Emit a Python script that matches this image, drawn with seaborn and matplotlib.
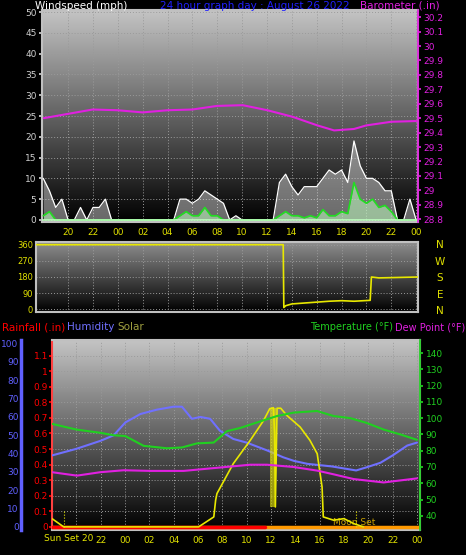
import numpy as np
import pandas as pd
import matplotlib
matplotlib.use("Agg")
import matplotlib.pyplot as plt
from matplotlib.colors import LinearSegmentedColormap
import seaborn as sns

sns.set_theme(style="dark")
plt.rcParams['font.family'] = ['DejaVu Sans']

# ---------- data ----------
tick_labels = ["20", "22", "00", "02", "04", "06", "08", "10", "12", "14", "16", "18", "20", "22", "00"]

wind_hours = [h / 2 for h in range(-4, 57)]
wind_gust = [10, 7, 3, 5, 0, 0, 3, 0, 3, 3, 5, 0, 0, 0, 0, 0, 0, 0, 0, 0, 0, 0, 5, 5, 4, 5, 7, 6, 5, 4, 0, 1, 0,
             0, 0, 0, 0, 0, 9, 11, 8, 6, 8, 8, 8, 10, 12, 11, 12, 9, 19, 13, 10, 10, 9, 7, 7, 0, 0, 5, 0]
wind_avg = [1, 2, 0, 0, 0, 0, 0, 0, 0, 0, 0, 0, 0, 0, 0, 0, 0, 0, 0, 0, 0, 0, 1, 2, 1, 1, 3, 1, 1, 0, 0, 0, 0,
            0, 0, 0, 0, 0, 1, 2, 1, 1, 0.5, 1, 0.5, 2.5, 1, 1, 2, 1.5, 9, 5, 4, 5, 3, 3.5, 2, 0, 0, 0, 0]

baro_hours = [-1.96, 0, 1.98, 3.97, 6.0, 8.02, 10.0, 11.98, 14.05, 16.03, 18.04, 20.05, 21.4, 23.0, 24.0, 26.0, 28.0]
baro_vals = [29.50, 29.53, 29.56, 29.555, 29.54, 29.555, 29.56, 29.585, 29.59, 29.555, 29.51, 29.45, 29.415,
             29.425, 29.45, 29.475, 29.48]

dir_hours = [-2.6, 17.3, 17.35, 17.5, 18, 19, 20, 21, 22, 23, 24.3, 24.4, 25, 28.2]
dir_vals = [360, 360, 10, 20, 30, 35, 40, 45, 48, 45, 50, 180, 175, 180]

hum_hours = [-2, 0, 2, 3.07, 4.03, 5.26, 6.63, 8, 8.68, 9.5, 10.2, 11, 11.8, 12.9, 14, 15.7, 17, 17.9, 19, 21,
             23, 23.9, 25, 26, 27.2, 28]
hum_vals = [39, 42.6, 47, 50, 57, 61.6, 64, 65.6, 65.6, 59, 60, 59, 52.5, 48, 46, 41.7, 38, 36, 34.4, 33, 30.8,
            32.6, 35, 39, 44.4, 46]

temp_hours = [-2, 0, 1.97, 3.07, 4.03, 5.53, 7.45, 8.68, 9.92, 11.29, 12.38, 13.48, 15.12, 16.49, 17.86, 19.78,
              21.15, 22.52, 23.89, 25.26, 26.63, 28]
temp_vals = [96.5, 93, 91, 89.5, 89, 83, 81.5, 82, 84.5, 85, 92, 94, 98, 101.3, 103.4, 104.4, 101.3, 100, 97, 93,
             90, 86.7]

dew_hours = [-2, 0.05, 1.97, 3.89, 6.08, 8.82, 11.56, 14.3, 15.67, 17.86, 19.78, 21.15, 22.79, 25.26, 28]
dew_vals = [66.8, 64.7, 66.8, 68, 67.6, 67.6, 69.5, 71.4, 71.4, 70, 67.8, 65.5, 62.6, 60.5, 63]

solar_hours = [-2, -1.04, 10.05, 11.3, 11.45, 11.56, 12.9, 14.3, 15.4, 15.9, 16.2, 16.3, 16.36, 16.5, 16.8, 17.3,
               18.4, 19.2, 19.8, 20.2, 20.3, 21.15, 22, 22.8, 23.6]
solar_vals = [53, 0, 0, 64, 171, 214, 406, 556, 684, 759, 765, 600, 128, 762, 762, 716, 641, 556, 470, 256, 64, 43,
              53, 21, 0]

# ---------- figure ----------
W, H = 466, 555
fig = plt.figure(figsize=(W / 100, H / 100), dpi=100, facecolor="black")


def px(l, t, r, b):
    return [l / W, 1 - b / H, (r - l) / W, (b - t) / H]


def gradient(ax, top="#c4c4c4", bottom="#000000"):
    cmap = LinearSegmentedColormap.from_list("g", [bottom, top])
    ax.imshow(np.linspace(0, 1, 256).reshape(-1, 1), cmap=cmap, origin="lower", extent=[0, 1, 0, 1],
              transform=ax.transAxes, aspect="auto", zorder=0)


def style(ax, spine="#c0c0c0"):
    ax.set_facecolor("black")
    for s in ax.spines.values():
        s.set_color(spine)
        s.set_linewidth(1.5)
    ax.grid(True, color="#9a9a9a", linestyle=(0, (1, 2)), linewidth=0.7, zorder=1)
    ax.set_xlabel("")
    ax.set_ylabel("")


fs = 6.5
# Panel 1: wind / barometer
ax1 = fig.add_axes(px(42, 10, 418, 222))
gradient(ax1)
style(ax1)
ax1.set_xlim(-2.1, 28.15)
ax1.set_ylim(-0.5, 50.5)
df_w = pd.DataFrame({"h": wind_hours, "gust": wind_gust, "avg": wind_avg})
ax1.fill_between(df_w.h, 0, df_w.gust, color="#e8e8e8", alpha=0.45, lw=0, zorder=2)
sns.lineplot(data=df_w, x="h", y="gust", ax=ax1, color="white", lw=0.9, zorder=3)
ax1.fill_between(df_w.h, 0, df_w.avg, color="#b8f0b8", alpha=0.6, lw=0, zorder=3)
sns.lineplot(data=df_w, x="h", y="avg", ax=ax1, color="#22dd22", lw=1.2, zorder=4)
ax1.axhline(0, color="#c0ffc0", lw=1.2, zorder=4)
ax1.set_xticks(range(0, 29, 2))
ax1.set_xticklabels(tick_labels)
ax1.set_yticks(range(0, 51, 5))
ax1.tick_params(axis="x", colors="#e0e000", labelsize=fs, length=2, pad=2)
ax1.tick_params(axis="y", colors="#d0d0d0", labelsize=fs, length=2, pad=2)
ax1.set_xlabel("")
ax1.set_ylabel("")
ax1b = ax1.twinx()
ax1b.set_ylim(28.78, 30.25)
sns.lineplot(x=baro_hours, y=baro_vals, ax=ax1b, color="#e020e0", lw=1.5)
ax1b.set_yticks(np.round(np.arange(28.8, 30.21, 0.1), 1))
ax1b.set_yticklabels([f"{v:g}" for v in np.round(np.arange(28.8, 30.21, 0.1), 1)])
ax1b.tick_params(axis="y", colors="#e020e0", labelsize=fs, length=2, pad=2)
ax1b.spines["right"].set_color("#e020e0")
for k in ["left", "top", "bottom"]:
    ax1b.spines[k].set_visible(False)
ax1b.grid(False)

fig.text(35 / W, 1 - 6 / H, "Windspeed (mph)", color="white", fontsize=7.5, va="center")
fig.text(255 / W, 1 - 6 / H, "24 hour graph day : August 26 2022", color="#2020ff", fontsize=7.5, va="center",
         ha="center")
fig.text(440 / W, 1 - 6 / H, "Barometer (.in)", color="#e020e0", fontsize=7.5, va="center", ha="right")

# Panel 2: wind direction
ax2 = fig.add_axes(px(36, 242, 418, 312))
gradient(ax2, top="#909090", bottom="#000000")
style(ax2)
ax2.set_xlim(-2.6, 28.15)
ax2.set_ylim(-15, 375)
sns.lineplot(x=dir_hours, y=dir_vals, ax=ax2, color="#e8e800", lw=1.2, zorder=3)
ax2.set_yticks([0, 90, 180, 270, 360])
ax2.set_xticks(range(0, 29, 2))
ax2.set_xticklabels([])
ax2.tick_params(axis="x", length=0)
ax2.tick_params(axis="y", colors="#e0e000", labelsize=fs - 0.5, length=0, pad=2)
for i, c in enumerate("NWSEN"):
    fig.text(440 / W, 1 - (245 + i * 16.5) / H, c, color="#e0e000", fontsize=7.5, ha="center", va="center")

# Panel 3: rain / humidity / solar / temperature
ax3 = fig.add_axes(px(52, 340, 420, 530))
gradient(ax3)
style(ax3)
ax3.set_xlim(-2, 28.25)
ax3.set_ylim(-0.02, 1.2)
ax3.set_yticks(np.round(np.arange(0, 1.11, 0.1), 1))
ax3.set_yticklabels([f"{v:g}" for v in np.round(np.arange(0, 1.11, 0.1), 1)])
ax3.set_xticks(range(0, 29, 2))
ax3.set_xticklabels([""] + tick_labels[1:])
ax3.tick_params(axis="x", colors="#e0e000", labelsize=fs, length=2, pad=2)
ax3.tick_params(axis="y", colors="red", labelsize=fs, length=2, pad=1)
ax3.spines["left"].set_color("#ff4040")
ax3.axhline(0, color="#ff9900", lw=2.5, zorder=3)
ax3.axhline(0, xmin=0, xmax=0.58, color="red", lw=2.5, zorder=3)

axh = ax3.twinx()
axh.set_ylim(-1.7, 102)
axh.yaxis.set_ticks_position("left")
axh.spines["left"].set_position(("outward", 22))
axh.spines["left"].set_color("#6060ff")
axh.spines["left"].set_linewidth(2.5)
for k in ["right", "top", "bottom"]:
    axh.spines[k].set_visible(False)
axh.set_yticks(range(0, 101, 10))
axh.tick_params(axis="y", colors="#6060ff", labelsize=fs, length=0, pad=2)
axh.grid(False)
sns.lineplot(x=hum_hours, y=hum_vals, ax=axh, color="#7070ff", lw=1.5)

axs = ax3.twinx()
axs.set_ylim(-20, 1200)
axs.axis("off")
sns.lineplot(x=solar_hours, y=solar_vals, ax=axs, color="#e8e800", lw=1.2, sort=False)
axs.fill_between([15.9, 16.4], [128, 128], [765, 765], color="#e8e800", alpha=0.6, lw=0)

axt = ax3.twinx()
axt.set_ylim(31.3, 148)
axt.set_yticks(range(40, 141, 10))
axt.tick_params(axis="y", colors="#20d020", labelsize=fs, length=2, pad=2)
axt.spines["right"].set_color("#20d020")
for k in ["left", "top", "bottom"]:
    axt.spines[k].set_visible(False)
axt.grid(False)
sns.lineplot(x=temp_hours, y=temp_vals, ax=axt, color="#20d020", lw=1.5)
sns.lineplot(x=dew_hours, y=dew_vals, ax=axt, color="#e020e0", lw=1.5)

for xv in (-1.04, 23.0):
    ax3.plot([xv, xv], [0, 0.1], color="#e8e800", lw=0.8, ls=":", zorder=4)
ax3.text(-0.6, -0.045, "Sun Set 20", color="#e8e800", fontsize=fs, ha="center", va="top", clip_on=False)
ax3.text(22.8, 0.0, "Moon Set", color="#c8a000", fontsize=fs, ha="center", va="bottom")

fig.text(2 / W, 1 - 327 / H, "Rainfall (.in)", color="red", fontsize=7.5, va="center")
fig.text(67 / W, 1 - 327 / H, "Humidity", color="#7070ff", fontsize=7.5, va="center")
fig.text(117 / W, 1 - 327 / H, "Solar", color="#a0a040", fontsize=7.5, va="center")
fig.text(393 / W, 1 - 327 / H, "Temperature (°F)", color="#20d020", fontsize=7, va="center", ha="right")
fig.text(465 / W, 1 - 327 / H, "Dew Point (°F)", color="#e020e0", fontsize=7, va="center", ha="right")

fig.savefig("out.png", dpi=100, facecolor="black")
